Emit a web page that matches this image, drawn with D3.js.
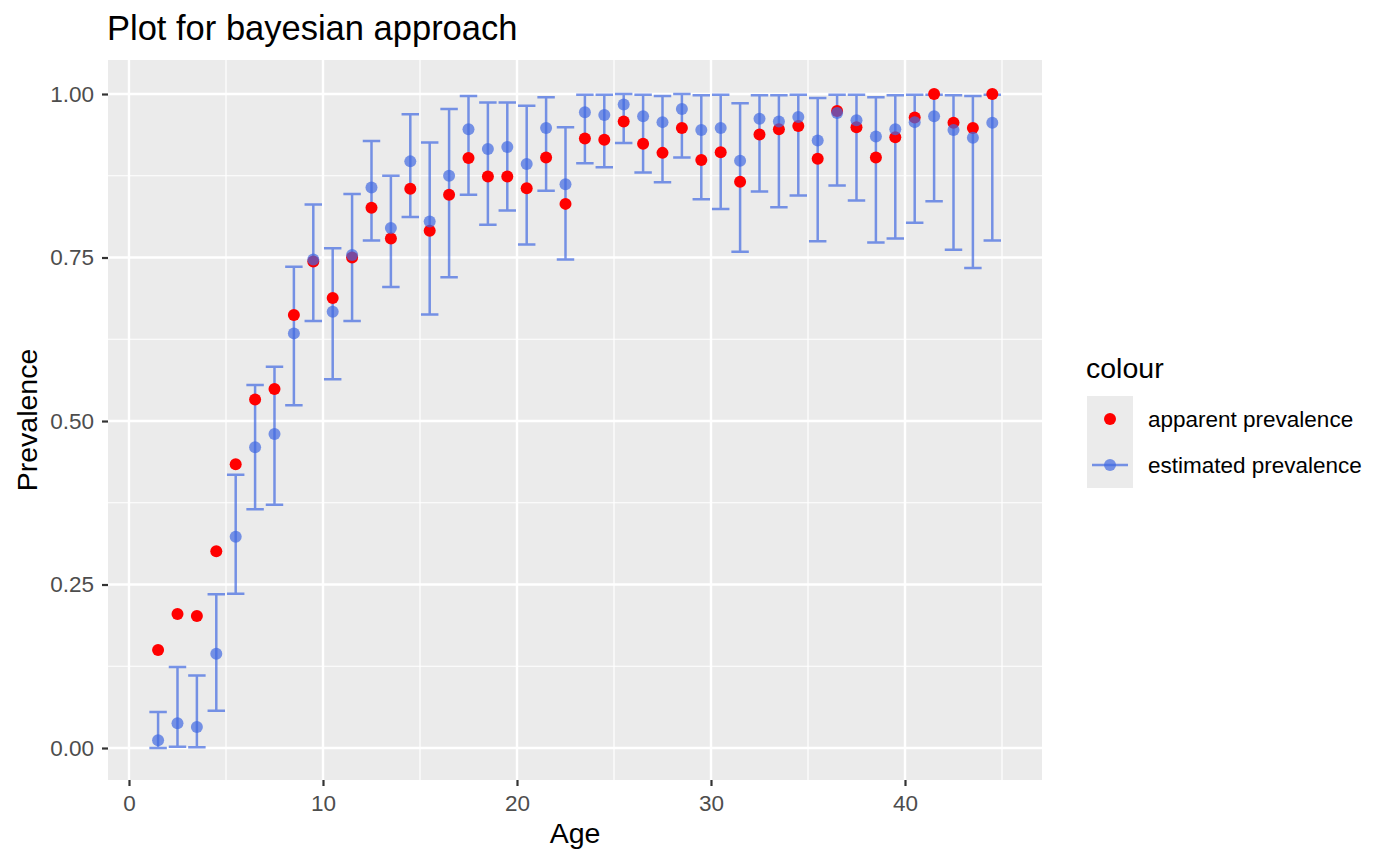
<!DOCTYPE html>
<html><head><meta charset="utf-8">
<script src="https://cdn.jsdelivr.net/npm/d3@7"></script>
<style>body{margin:0;background:#fff;} svg{display:block;font-family:"Liberation Sans",Arial,Helvetica,sans-serif;}</style>
</head><body><svg id="c" width="1400" height="865"></svg>
<script>
const ages = [1.5,2.5,3.5,4.5,5.5,6.5,7.5,8.5,9.5,10.5,11.5,12.5,13.5,14.5,15.5,16.5,17.5,18.5,19.5,20.5,21.5,22.5,23.5,24.5,25.5,26.5,27.5,28.5,29.5,30.5,31.5,32.5,33.5,34.5,35.5,36.5,37.5,38.5,39.5,40.5,41.5,42.5,43.5,44.5];
const apparent = [0.150,0.205,0.202,0.301,0.434,0.533,0.549,0.662,0.744,0.688,0.750,0.826,0.779,0.855,0.791,0.846,0.902,0.874,0.874,0.856,0.903,0.832,0.932,0.930,0.958,0.924,0.910,0.948,0.899,0.911,0.866,0.938,0.946,0.951,0.901,0.974,0.949,0.903,0.934,0.964,1.000,0.956,0.948,1.000];
const estimated = [0.012,0.038,0.032,0.144,0.323,0.460,0.480,0.634,0.747,0.667,0.754,0.857,0.795,0.897,0.805,0.875,0.946,0.916,0.919,0.893,0.948,0.862,0.972,0.968,0.984,0.966,0.957,0.977,0.945,0.948,0.898,0.962,0.958,0.965,0.929,0.971,0.960,0.935,0.946,0.957,0.966,0.945,0.933,0.956];
const lower = [0.000,0.002,0.001,0.057,0.236,0.365,0.372,0.524,0.653,0.564,0.653,0.776,0.705,0.812,0.663,0.720,0.846,0.800,0.822,0.770,0.852,0.747,0.894,0.888,0.925,0.880,0.865,0.903,0.839,0.824,0.759,0.851,0.827,0.845,0.775,0.860,0.837,0.773,0.779,0.803,0.836,0.762,0.734,0.776];
const upper = [0.055,0.124,0.111,0.235,0.418,0.555,0.583,0.736,0.831,0.764,0.847,0.928,0.875,0.969,0.926,0.977,0.997,0.987,0.987,0.982,0.995,0.949,0.999,0.999,1.000,0.999,0.997,1.000,0.998,0.999,0.986,0.998,0.998,0.999,0.994,0.999,0.999,0.995,0.998,0.999,0.999,0.998,0.997,0.999];
const xTicks = [0,10,20,30,40];
const xMinor = [5,15,25,35,45];
const yTicks = [0,0.25,0.5,0.75,1.0];
const yMinor = [0.125,0.375,0.625,0.875];
const legendLabels = ["apparent prevalence","estimated prevalence"];

const svg = d3.select("#c");
const L=108,R=1042,T=60,B=780;
const x = d3.scaleLinear().domain([-1.082,47.062]).range([L,R]);
const y = d3.scaleLinear().domain([-0.0489,1.052]).range([B,T]);
const blue = "#4169E1", red = "#FF0000";
const FONT = "Liberation Sans, Arial, sans-serif";

svg.append("rect").attr("x",L).attr("y",T).attr("width",R-L).attr("height",B-T).attr("fill","#EBEBEB");
const g = svg.append("g");
xMinor.forEach(v=>g.append("line").attr("x1",x(v)).attr("x2",x(v)).attr("y1",T).attr("y2",B).attr("stroke","#fff").attr("stroke-width",1.2));
yMinor.forEach(v=>g.append("line").attr("y1",y(v)).attr("y2",y(v)).attr("x1",L).attr("x2",R).attr("stroke","#fff").attr("stroke-width",1.2));
xTicks.forEach(v=>g.append("line").attr("x1",x(v)).attr("x2",x(v)).attr("y1",T).attr("y2",B).attr("stroke","#fff").attr("stroke-width",2.4));
yTicks.forEach(v=>g.append("line").attr("y1",y(v)).attr("y2",y(v)).attr("x1",L).attr("x2",R).attr("stroke","#fff").attr("stroke-width",2.4));

// axes
const xa = svg.append("g").attr("transform",`translate(0,${B})`).call(d3.axisBottom(x).tickValues(xTicks).tickSize(6).tickPadding(9).tickFormat(d3.format("d")));
const ya = svg.append("g").attr("transform",`translate(${L},0)`).call(d3.axisLeft(y).tickValues(yTicks).tickSize(6).tickPadding(8).tickFormat(d3.format(".2f")));
[xa,ya].forEach(a=>{a.select(".domain").remove();a.attr("font-size",null).attr("font-family",null);a.selectAll("line").attr("stroke","#333").attr("stroke-width",2.2);a.selectAll("text").attr("fill","#4D4D4D").attr("font-size","22.5px").attr("font-family",FONT);});

const data = ages.map((a,i)=>({a,ap:apparent[i],es:estimated[i],lo:lower[i],hi:upper[i]}));
const hw = 0.45;
const eb = svg.append("g").attr("stroke",blue).attr("stroke-opacity",0.7).attr("stroke-width",2.5).attr("fill","none");
data.forEach(d=>{
  eb.append("path").attr("d",`M${x(d.a-hw)},${y(d.hi)}H${x(d.a+hw)}M${x(d.a)},${y(d.hi)}V${y(d.lo)}M${x(d.a-hw)},${y(d.lo)}H${x(d.a+hw)}`);
});
svg.append("g").selectAll("circle").data(data).join("circle").attr("cx",d=>x(d.a)).attr("cy",d=>y(d.ap)).attr("r",6).attr("fill",red);
svg.append("g").selectAll("circle").data(data).join("circle").attr("cx",d=>x(d.a)).attr("cy",d=>y(d.es)).attr("r",6).attr("fill",blue).attr("fill-opacity",0.7);

// titles
svg.append("text").attr("x",107).attr("y",40).attr("font-size","34.5px").attr("fill","#000").text("Plot for bayesian approach");
svg.append("text").attr("x",(L+R)/2).attr("y",843).attr("text-anchor","middle").attr("font-size","28.5px").text("Age");
svg.append("text").attr("transform",`translate(37,${(T+B)/2}) rotate(-90)`).attr("text-anchor","middle").attr("font-size","28.5px").text("Prevalence");

// legend
const lg = svg.append("g");
lg.append("text").attr("x",1086).attr("y",378).attr("font-size","28.5px").text("colour");
lg.append("rect").attr("x",1087).attr("y",396).attr("width",46).attr("height",46).attr("fill","#EBEBEB");
lg.append("rect").attr("x",1087).attr("y",442).attr("width",46).attr("height",46).attr("fill","#EBEBEB");
lg.append("circle").attr("cx",1110).attr("cy",419).attr("r",6).attr("fill",red);
lg.append("line").attr("x1",1092).attr("x2",1128).attr("y1",465).attr("y2",465).attr("stroke",blue).attr("stroke-opacity",0.7).attr("stroke-width",2.5);
lg.append("circle").attr("cx",1110).attr("cy",465).attr("r",6).attr("fill",blue).attr("fill-opacity",0.7);
legendLabels.forEach((t,i)=>lg.append("text").attr("x",1148).attr("y",419+46*i+8).attr("font-size","22.5px").text(t));
</script></body></html>
